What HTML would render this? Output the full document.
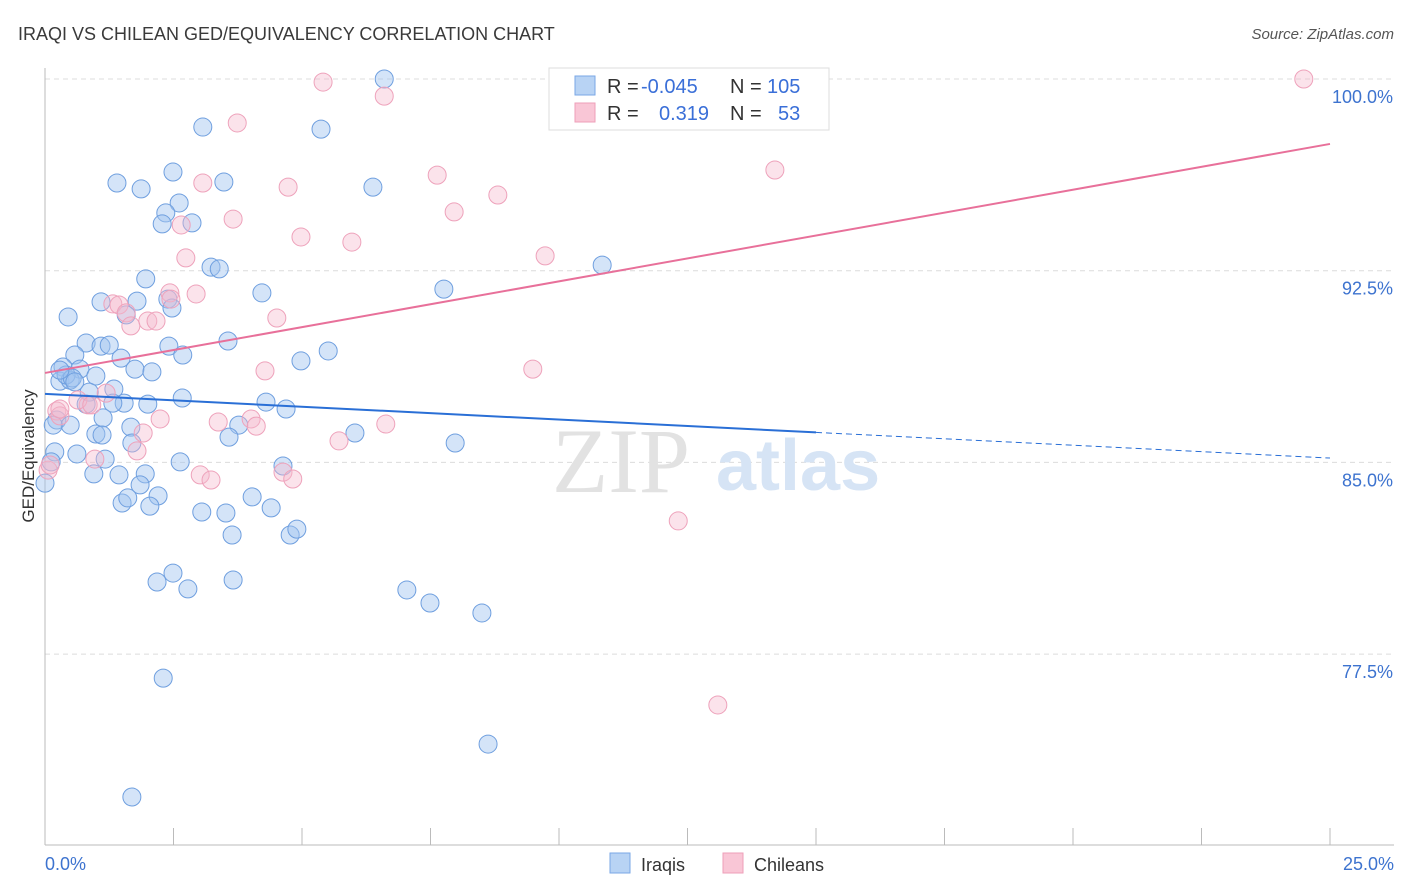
<!DOCTYPE html>
<html><head><meta charset="utf-8"><style>
body{margin:0;background:#fff;font-family:"Liberation Sans",sans-serif;}
#wrap{position:relative;width:1406px;height:892px;overflow:hidden;}
</style></head><body>
<div id="wrap">
<svg id="svg" width="1406" height="892"></svg>
</div>
<script>
const yTicks=[100,92.5,85,77.5];
const yTickLabels=["100.0%","92.5%","85.0%","77.5%"];
const xLabels=["0.0%","25.0%"];
const iraqiX=[6.60,3.07,5.37,1.40,1.87,3.48,2.49,6.38,2.61,2.35,2.28,2.86,1.96,3.23,3.39,10.84,4.22,7.76,1.09,1.79,2.39,2.47,0.45,1.58,3.56,0.80,1.09,1.25,2.41,2.68,1.48,0.58,4.98,5.51,0.35,1.75,2.08,0.68,0.99,0.29,0.49,0.41,0.53,0.86,1.34,2.67,4.30,4.69,0.80,1.54,1.32,2.00,3.77,3.58,1.67,0.23,0.49,0.16,1.13,0.99,1.11,6.03,7.98,1.69,0.19,0.62,1.17,2.63,0.12,0.0,0.95,1.44,1.95,4.63,1.85,2.20,4.03,1.50,1.61,2.04,3.05,3.52,4.40,3.64,4.77,4.90,2.49,2.18,2.78,3.66,7.04,7.49,8.50,2.30,8.62,1.69,0.29,0.58];
const iraqiY=[100,98.12,98.04,95.93,95.70,95.97,96.36,95.77,95.15,94.76,94.33,94.37,92.18,92.64,92.57,92.72,91.63,91.78,91.28,91.31,91.39,91.04,90.69,90.77,89.75,89.67,89.55,89.59,89.55,89.20,89.08,89.20,88.97,89.36,88.73,88.65,88.54,88.65,88.38,88.18,88.22,88.42,88.30,87.75,87.87,87.52,87.36,87.09,87.28,87.32,87.32,87.28,86.46,85.99,86.38,86.66,86.46,86.46,86.74,86.11,86.07,86.15,85.76,85.76,85.41,85.33,85.13,85.02,85.02,84.19,84.55,84.51,84.55,84.86,84.12,83.69,83.65,83.41,83.61,83.29,83.06,83.02,83.22,82.16,82.16,82.39,80.67,80.32,80.05,80.40,80.01,79.50,79.11,76.56,73.98,71.91,88.61,88.15];
const chileX=[5.41,6.60,14.05,24.49,3.74,3.07,4.73,7.63,8.81,3.66,7.96,2.65,14.20,4.98,5.97,9.73,2.74,2.43,2.94,2.45,1.32,1.44,1.58,2.00,2.16,1.67,4.51,4.28,9.49,1.19,0.84,0.64,0.91,0.23,0.29,1.91,2.24,3.37,4.01,4.11,6.63,5.72,1.79,0.97,3.02,3.23,4.63,4.82,12.32,13.09,0.06,0.10,0.29];
const chileY=[99.88,99.33,99.96,100,98.28,95.93,95.77,96.24,95.46,94.52,94.80,94.29,96.44,93.82,93.62,93.08,93.00,91.63,91.59,91.39,91.20,91.16,90.85,90.53,90.53,90.34,90.65,88.58,88.65,87.71,87.25,87.44,87.25,87.01,86.82,86.15,86.70,86.58,86.70,86.42,86.50,85.84,85.45,85.13,84.51,84.31,84.62,84.35,82.71,75.51,84.70,84.90,87.09];
const iraqiTrend=[87.68,85.17];
const chileTrend=[88.50,97.46];

const NS="http://www.w3.org/2000/svg";
const svg=document.getElementById('svg');
const X=v=>45+v/25*1285;
const Y=v=>79+(100-v)/7.5*191.7;
function mk(tag,attrs,parent){const e=document.createElementNS(NS,tag);for(const k in attrs)e.setAttribute(k,attrs[k]);(parent||svg).appendChild(e);return e;}
function txt(s,attrs){const e=mk('text',attrs);e.textContent=s;return e;}

let t=txt("IRAQI VS CHILEAN GED/EQUIVALENCY CORRELATION CHART",{x:18,y:40,'font-size':18,fill:'#3a3a3a'});

t=txt("Source: ZipAtlas.com",{x:1394,y:39,'font-size':15,fill:'#555','font-style':'italic','text-anchor':'end'});


yTicks.forEach((v,i)=>{
 const g=mk('line',{x1:45,x2:1394,y1:Y(v),y2:Y(v),stroke:'#dcdcdc','stroke-dasharray':'5,4'});
 
 const l=txt(yTickLabels[i],{x:1393,y:Y(v)+24,'font-size':18,fill:'#3d73cf','text-anchor':'end'});
 
});
let a=mk('line',{x1:45,x2:45,y1:68,y2:845,stroke:'#bbb'});
a=mk('line',{x1:45,x2:1394,y1:845,y2:845,stroke:'#bbb'});
for(let i=0;i<=10;i++){const tk=mk('line',{x1:X(i*2.5),x2:X(i*2.5),y1:828,y2:845,stroke:'#bbb'});}
t=txt(xLabels[0],{x:45,y:870,'font-size':18,fill:'#3d73cf'});
t=txt(xLabels[1],{x:1394,y:870,'font-size':18,fill:'#3d73cf','text-anchor':'end'});
t=txt("GED/Equivalency",{x:34,y:456,'font-size':17,fill:'#333','text-anchor':'middle',transform:'rotate(-90 34 456)'});


t=txt("ZIP",{x:552,y:492,'font-size':92,fill:'#e2e2e2','font-family':'Liberation Serif'});
t=txt("atlas",{x:716,y:490,'font-size':72,fill:'#d6e4f5','font-weight':'bold'});

iraqiX.forEach((x,i)=>{const c=mk('circle',{cx:X(x),cy:Y(iraqiY[i]),r:9,fill:'rgba(160,196,240,0.45)',stroke:'#6f9fdf','stroke-width':1});
 
 });
chileX.forEach((x,i)=>{const c=mk('circle',{cx:X(x),cy:Y(chileY[i]),r:9,fill:'rgba(246,184,204,0.4)',stroke:'#eea2bb','stroke-width':1});
 
 });

const bm=iraqiTrend[0]+(iraqiTrend[1]-iraqiTrend[0])*(15/25);
let l=mk('line',{x1:X(0),y1:Y(iraqiTrend[0]),x2:X(15),y2:Y(bm),stroke:'#2a6fd6','stroke-width':2});

l=mk('line',{x1:X(15),y1:Y(bm),x2:X(25),y2:Y(iraqiTrend[1]),stroke:'#2a6fd6','stroke-width':1,'stroke-dasharray':'6,4'});

l=mk('line',{x1:X(0),y1:Y(chileTrend[0]),x2:X(25),y2:Y(chileTrend[1]),stroke:'#e8709a','stroke-width':2});


let r=mk('rect',{x:549,y:68,width:280,height:62,fill:'#fff',stroke:'#ddd'});
r=mk('rect',{x:575,y:76,width:20,height:19,fill:'#b8d3f4',stroke:'#7aa7e6'});
r=mk('rect',{x:575,y:103,width:20,height:19,fill:'#f9c6d6',stroke:'#ee9fb8'});
[["R =",607,93,'#333'],["-0.045",641,93,'#3a6fd8'],["N =",730,93,'#333'],["105",767,93,'#3a6fd8'],["R =",607,120,'#333'],["0.319",659,120,'#3a6fd8'],["N =",730,120,'#333'],["53",778,120,'#3a6fd8']].forEach(d=>{
 const e=txt(d[0],{x:d[1],y:d[2],'font-size':20,fill:d[3]});
 
 });

r=mk('rect',{x:610,y:853,width:20,height:20,fill:'#b8d3f4',stroke:'#7aa7e6'});
t=txt("Iraqis",{x:641,y:871,'font-size':18,fill:'#333'});
r=mk('rect',{x:723,y:853,width:20,height:20,fill:'#f9c6d6',stroke:'#ee9fb8'});
t=txt("Chileans",{x:754,y:871,'font-size':18,fill:'#333'});
</script>
</body></html>
